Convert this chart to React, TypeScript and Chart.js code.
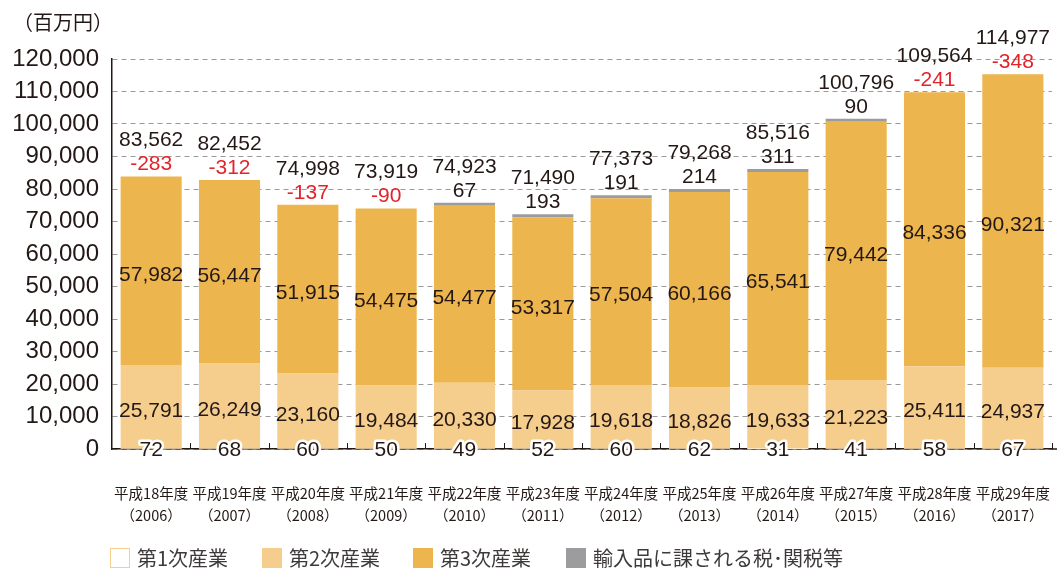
import React, { useEffect, useRef } from "react";
import { Chart, registerables } from "chart.js";

Chart.register(...registerables);

const categories: string[][] = [
  ["平成18年度", "（2006）"],
  ["平成19年度", "（2007）"],
  ["平成20年度", "（2008）"],
  ["平成21年度", "（2009）"],
  ["平成22年度", "（2010）"],
  ["平成23年度", "（2011）"],
  ["平成24年度", "（2012）"],
  ["平成25年度", "（2013）"],
  ["平成26年度", "（2014）"],
  ["平成27年度", "（2015）"],
  ["平成28年度", "（2016）"],
  ["平成29年度", "（2017）"],
];

const primary = [72, 68, 60, 50, 49, 52, 60, 62, 31, 41, 58, 67];
const secondary = [25791, 26249, 23160, 19484, 20330, 17928, 19618, 18826, 19633, 21223, 25411, 24937];
const tertiary = [57982, 56447, 51915, 54475, 54477, 53317, 57504, 60166, 65541, 79442, 84336, 90321];
const importTax = [-283, -312, -137, -90, 67, 193, 191, 214, 311, 90, -241, -348];
const totals = [83562, 82452, 74998, 73919, 74923, 71490, 77373, 79268, 85516, 100796, 109564, 114977];

const seriesNames = ["第1次産業", "第2次産業", "第3次産業", "輸入品に課される税･関税等"];
const yTicks = [0, 10000, 20000, 30000, 40000, 50000, 60000, 70000, 80000, 90000, 100000, 110000, 120000];

const C_PRIMARY_BORDER = "#f5cd8c";
const C_SECONDARY = "#f5cd8c";
const C_TERTIARY = "#edb54e";
const C_TAX = "#9c9c9e";
const C_TEXT = "#231815";
const C_RED = "#e2242b";
const NUM_FONT = "'Liberation Sans', Arial, sans-serif";
const JP_FONT = "'Noto Sans CJK JP', sans-serif";

const fmt = (v: number) => v.toLocaleString("en-US");

const labelPlugin = {
  id: "valueLabels",
  afterDatasetsDraw(chart: any) {
    const ctx = chart.ctx;
    const y = chart.scales.y;
    const x = chart.scales.x;
    const area = chart.chartArea;
    ctx.save();
    // tick marks pointing up at category boundaries
    ctx.strokeStyle = C_TEXT;
    ctx.lineWidth = 1;
    const n = categories.length;
    const step = (x.right - x.left) / n;
    for (let i = 1; i <= n; i++) {
      const px = Math.round(x.left + i * step) + 0.5;
      ctx.beginPath();
      ctx.moveTo(px, area.bottom - 6);
      ctx.lineTo(px, area.bottom);
      ctx.stroke();
    }
    // extend axis line to the right edge
    ctx.lineWidth = 1.5;
    ctx.beginPath();
    ctx.moveTo(area.right, area.bottom);
    ctx.lineTo(chart.width, area.bottom);
    ctx.stroke();

    ctx.font = `21px ${NUM_FONT}`;
    ctx.textAlign = "center";
    ctx.textBaseline = "middle";
    const m1 = chart.getDatasetMeta(1);
    const m2 = chart.getDatasetMeta(2);
    const m3 = chart.getDatasetMeta(3);
    for (let i = 0; i < n; i++) {
      const bx = m1.data[i].x;
      const y0 = y.getPixelForValue(0);
      ctx.lineWidth = 5;
      ctx.strokeStyle = "#ffffff";
      ctx.lineJoin = "round";
      ctx.strokeText(fmt(primary[i]), bx, y0 + 1);
      ctx.fillStyle = C_TEXT;
      ctx.fillText(fmt(primary[i]), bx, y0 + 1);
      const s = m1.data[i];
      ctx.fillText(fmt(secondary[i]), bx, (s.y + s.base) / 2 + 4);
      const t = m2.data[i];
      ctx.fillText(fmt(tertiary[i]), bx, (t.y + t.base) / 2 + 4);
      let top = t.y;
      if (importTax[i] > 0) top = Math.min(top, m3.data[i].y);
      ctx.fillStyle = importTax[i] < 0 ? C_RED : C_TEXT;
      ctx.fillText(fmt(importTax[i]), bx, top - 12);
      ctx.fillStyle = C_TEXT;
      ctx.fillText(fmt(totals[i]), bx, top - 36);
    }
    ctx.restore();
  },
};

export default function App() {
  const ref = useRef<HTMLCanvasElement | null>(null);
  useEffect(() => {
    if (!ref.current) return;
    const chart = new Chart(ref.current, {
      type: "bar",
      data: {
        labels: categories,
        datasets: [
          {
            label: seriesNames[0],
            data: primary,
            backgroundColor: "#ffffff",
            borderColor: C_PRIMARY_BORDER,
            borderWidth: 0,
          },
          { label: seriesNames[1], data: secondary, backgroundColor: C_SECONDARY },
          { label: seriesNames[2], data: tertiary, backgroundColor: C_TERTIARY },
          {
            label: seriesNames[3],
            data: importTax,
            backgroundColor: C_TAX,
            minBarLength: 3,
            clip: 0,
          } as any,
        ],
      },
      options: {
        animation: false,
        responsive: false,
        maintainAspectRatio: false,
        layout: { padding: { left: 0, right: 5, top: 59, bottom: 0 } },
        datasets: { bar: { barPercentage: 0.78, categoryPercentage: 1 } },
        plugins: { legend: { display: false }, tooltip: { enabled: false }, title: { display: false } },
        scales: {
          x: {
            stacked: true,
            grid: {
              display: true,
              drawOnChartArea: false,
              drawTicks: true,
              tickLength: 31,
              tickColor: "rgba(0,0,0,0)",
              color: "rgba(0,0,0,0)",
            },
            border: { display: true, color: C_TEXT, width: 1.5 },
            ticks: {
              color: C_TEXT,
              font: { family: JP_FONT, size: 14.5, lineHeight: 1.52 },
              padding: 2,
              maxRotation: 0,
              autoSkip: false,
            },
            afterFit: (s: any) => {
              s.height = 120;
            },
          },
          y: {
            stacked: true,
            min: 0,
            max: 120000,
            afterBuildTicks: (s: any) => {
              s.ticks = yTicks.map((v) => ({ value: v }));
            },
            grid: { color: "#9a9a9a", lineWidth: 1, drawTicks: false },
            border: { display: true, color: C_TEXT, width: 1.5, dash: [5, 4] },
            ticks: {
              color: C_TEXT,
              font: { family: NUM_FONT, size: 24 },
              padding: 13,
              callback: (v: any) => fmt(Number(v)),
            },
            afterFit: (s: any) => {
              s.width = 112;
            },
          },
        },
      },
      plugins: [labelPlugin],
    });
    return () => chart.destroy();
  }, []);

  const legendLeft = [110, 262, 413, 566];
  const legendColors = ["#ffffff", C_SECONDARY, C_TERTIARY, C_TAX];

  return (
    <div style={{ position: "fixed", left: 0, top: 0, width: 1057, height: 569, background: "#fff", overflow: "hidden" }}>
      <canvas ref={ref} width={1057} height={569} style={{ position: "absolute", left: 0, top: 0 }} />
      <div
        style={{
          position: "absolute",
          left: 13,
          top: 8,
          fontFamily: JP_FONT,
          fontSize: 20,
          color: C_TEXT,
          lineHeight: "28px",
        }}
      >
        （百万円）
      </div>
      {seriesNames.map((name, i) => (
        <div
          key={name}
          style={{
            position: "absolute",
            left: legendLeft[i],
            top: 547,
            height: 21,
            display: "flex",
            alignItems: "center",
            fontFamily: JP_FONT,
            fontSize: 20,
            color: "#3e3a39",
            whiteSpace: "nowrap",
          }}
        >
          <span
            style={{
              display: "inline-block",
              width: 20,
              height: 20,
              boxSizing: "border-box",
              background: legendColors[i],
              border: i === 0 ? `1.5px solid ${C_PRIMARY_BORDER}` : "none",
              marginRight: 7,
            }}
          />
          <span style={{ lineHeight: "21px" }}>{name}</span>
        </div>
      ))}
    </div>
  );
}
